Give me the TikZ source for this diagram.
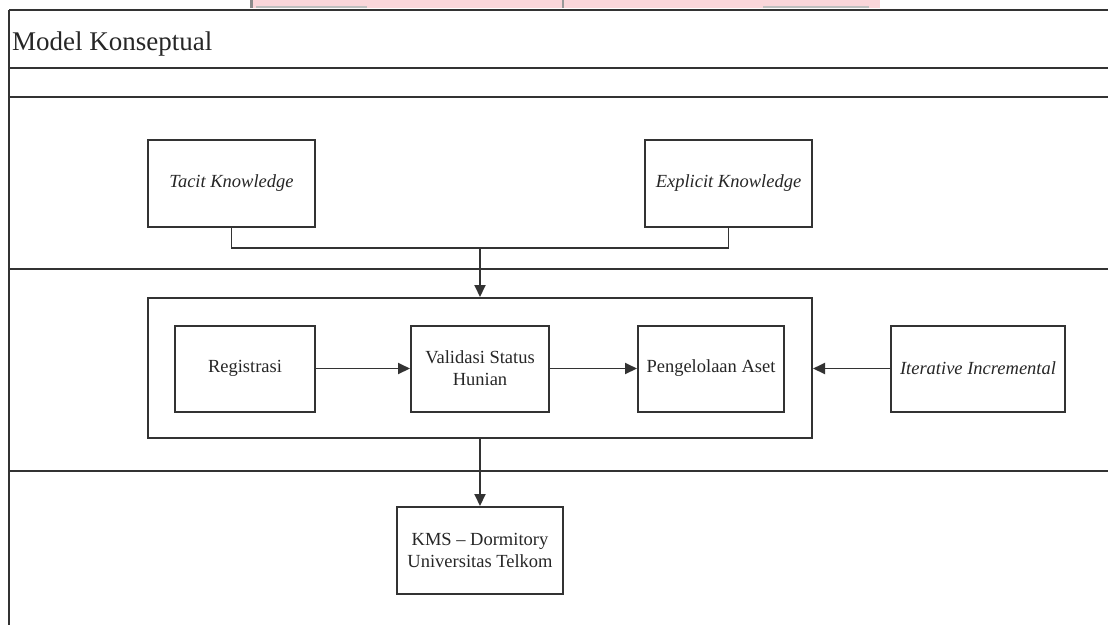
\documentclass[tikz,border=0pt]{standalone}
\usepackage{fontspec}
\setmainfont{Liberation Serif}
\usetikzlibrary{arrows.meta}
\definecolor{ln}{HTML}{333333}
\definecolor{wm}{HTML}{FAD6DA}
\tikzset{
  boxnode/.style={draw=ln, line width=2pt, rectangle, align=center, inner sep=2pt, text=black!85, font=\fontsize{18.5}{22}\selectfont},
  itbox/.style={boxnode, font=\fontsize{18.5}{22}\selectfont\itshape},
  sepline/.style={draw=ln, line width=2.3pt},
  conn/.style={draw=ln, line width=1.9pt},
  arr/.style={conn, -{Triangle[length=12pt,width=11pt]}}
}
\begin{document}
\begin{tikzpicture}[x=1pt,y=-1pt]
\useasboundingbox (0,0) rectangle (1108,625);
% watermark remnant at the top
\fill[wm] (250,0) rectangle (880,8);
\fill[black!45] (250,0) rectangle (253,8);
\fill[black!40] (562,0) rectangle (564,8);
\fill[black!25] (256,6) rectangle (367,8);
\fill[black!25] (763,6) rectangle (869,8);
% frame lines
\coordinate (tl) at (9,10);
\coordinate (bl) at (9,625);
\draw[sepline] (tl) -- (1108,10);
\draw[sepline] (tl) -- (bl);
\draw[sepline] (9,68) -- (1108,68);
\draw[sepline] (9,97) -- (1108,97);
\draw[sepline] (9,269) -- (1108,269);
\draw[sepline] (9,471) -- (1108,471);
\node[anchor=base west, inner sep=0pt, text=black!85, font=\fontsize{27}{30}\selectfont] (title) at (12,50) {Model Konseptual};
% nodes
\node[itbox, minimum width=167pt, minimum height=87pt] (tacit) at (231.5,183.5) {Tacit Knowledge};
\node[itbox, minimum width=167pt, minimum height=87pt] (explicit) at (728.5,183.5) {Explicit Knowledge};
\node[draw=ln, line width=2pt, rectangle, minimum width=664pt, minimum height=140pt, inner sep=0pt] (outer) at (480,368) {};
\node[boxnode, minimum width=140pt, minimum height=86pt] (reg) at (245,368.5) {Registrasi};
\node[boxnode, minimum width=138pt, minimum height=86pt] (val) at (480,368.5) {Validasi Status\\Hunian};
\node[boxnode, minimum width=146pt, minimum height=86pt] (peng) at (711,368.5) {Pengelolaan Aset};
\node[itbox, minimum width=174pt, minimum height=86pt] (iter) at (978,368.5) {Iterative Incremental};
\node[boxnode, minimum width=166pt, minimum height=87pt] (kms) at (480,550.5) {KMS -- Dormitory\\Universitas Telkom};
% connectors
\coordinate (j) at (480,248);
\draw[conn] (tacit.south) |- (j) -| (explicit.south);
\draw[arr] (j) -- (outer.north);
\draw[arr] (reg) -- (val);
\draw[arr] (val) -- (peng);
\draw[arr] (iter) -- (outer.east |- iter.west);
\draw[arr] (outer.south) -- (kms.north);
\end{tikzpicture}
\end{document}
